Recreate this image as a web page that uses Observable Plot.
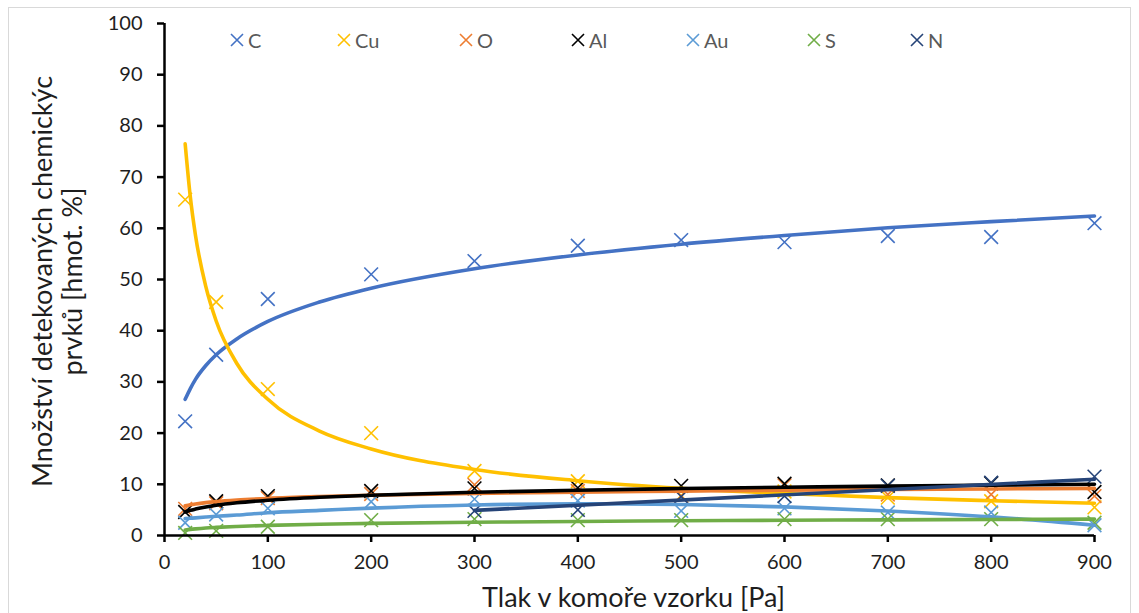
<!DOCTYPE html>
<html><head><meta charset="utf-8">
<script src="https://cdn.jsdelivr.net/npm/d3@7"></script>
<script src="https://cdn.jsdelivr.net/npm/@observablehq/plot@0.6"></script>
<style>
html,body{margin:0;padding:0;background:#fff;}
#wrap{position:relative;width:1139px;height:613px;overflow:hidden;}
#border{position:absolute;left:8px;top:7px;width:1123px;height:640px;border:1px solid #d9d9d9;box-sizing:border-box;pointer-events:none;}
#legend{position:absolute;top:0;left:0;width:1139px;height:60px;font-family:Lato,sans-serif;font-size:20px;color:#595959;}
.item{position:absolute;top:29px;height:22px;display:flex;align-items:center;white-space:nowrap;}
.item svg{margin-right:4px;}
</style></head>
<body><div id="wrap"><div id="chart"></div><div id="legend"></div><div id="border"></div></div>
<script>
// ---- data ----
const seriesNames = ["C", "Cu", "O", "Al", "Au", "S", "N"];
const seriesColors = ["#4472C4", "#FFC000", "#ED7D31", "#000000", "#5B9BD5", "#70AD47", "#264478"];
const pressure = [20, 50, 100, 200, 300, 400, 500, 600, 700, 800, 900];
const C  = [22.3, 35.3, 46.2, 51.0, 53.6, 56.6, 57.7, 57.3, 58.5, 58.3, 61.0];
const Cu = [65.6, 45.6, 28.6, 20.0, 12.6, 10.6, 7.8, 8.6, 7.4, 6.7, 5.5];
const O  = [5.2, 6.3, 7.3, 8.1, 9.9, 8.7, 7.7, 9.8, 8.0, 8.0, 7.7];
const Al = [4.6, 6.7, 7.7, 8.7, 9.2, 9.3, 9.7, 10.1, 9.8, 10.2, 8.5];
const Au = [2.5, 4.1, 5.3, 6.6, 7.1, 6.8, 4.8, 5.3, 4.5, 4.5, 2.0];
const S  = [0.5, 0.9, 1.7, 3.0, 3.2, 3.0, 3.0, 3.2, 3.2, 3.2, 2.5];
const pressureN = [300, 400, 500, 600, 700, 800, 900];
const N  = [4.8, 5.0, 7.6, 7.7, 9.7, 10.3, 11.5];

// trend lines (Excel trendlines)
const trendX   = [20, 25, 30, 40, 50, 70, 100, 150, 200, 300, 400, 500, 600, 700, 800, 900];
const trendC   = [26.6, 28.7, 30.5, 33.2, 35.3, 38.4, 41.8, 45.6, 48.3, 52.1, 54.8, 56.9, 58.6, 60.1, 61.3, 62.4];
const trendCu  = [76.5, 66.1, 58.6, 48.6, 41.9, 33.6, 26.6, 20.4, 16.9, 12.9, 10.7, 9.2, 8.2, 7.4, 6.8, 6.3];
const trendO   = [5.8, 6.0, 6.16, 6.42, 6.62, 6.92, 7.24, 7.6, 7.86, 8.22, 8.47, 8.67, 8.84, 8.97, 9.09, 9.2];
const trendAl  = [4.6, 4.92, 5.17, 5.58, 5.9, 6.38, 6.88, 7.46, 7.87, 8.44, 8.85, 9.17, 9.43, 9.65, 9.84, 10.0];
const trendAu  = [3.3, 3.37, 3.45, 3.6, 3.75, 4.0, 4.45, 4.9, 5.35, 5.95, 6.2, 6.05, 5.6, 4.8, 3.65, 2.0];
const trendS   = [1.07, 1.19, 1.29, 1.46, 1.58, 1.77, 1.97, 2.2, 2.36, 2.58, 2.74, 2.87, 2.97, 3.06, 3.13, 3.2];
const trendXN  = [300, 900];
const trendN   = [4.9, 11.0];

const xTicks = [0, 100, 200, 300, 400, 500, 600, 700, 800, 900];
const yTicks = [0, 10, 20, 30, 40, 50, 60, 70, 80, 90, 100];
const xTitle = "Tlak v komoře vzorku [Pa]";
const yTitle = "Množství detekovaných chemickýc\nprvků [hmot. %]";

// ---- tables built from the arrays ----
const pointSets = [[C, pressure], [Cu, pressure], [O, pressure], [Al, pressure], [Au, pressure], [S, pressure], [N, pressureN]];
const points = [];
pointSets.forEach(([vals, xs], i) => vals.forEach((v, j) => points.push({s: seriesNames[i], x: xs[j], y: v})));
const trendSets = [[trendC, trendX], [trendCu, trendX], [trendO, trendX], [trendAl, trendX], [trendAu, trendX], [trendS, trendX], [trendN, trendXN]];
const trends = [];
trendSets.forEach(([vals, xs], i) => vals.forEach((v, j) => trends.push({s: seriesNames[i], x: xs[j], y: v})));

const chart = Plot.plot({
  width: 1139, height: 613,
  marginLeft: 164, marginRight: 45, marginTop: 23, marginBottom: 78,
  style: {fontFamily: "Lato, sans-serif", fontSize: "20px", color: "#1e1e1e", background: "transparent"},
  x: {domain: [0, 900]},
  y: {domain: [0, 100]},
  color: {domain: seriesNames, range: seriesColors},
  marks: [
    Plot.dot(points, {x: "x", y: "y", stroke: "s", symbol: "times", r: 6.3, strokeWidth: 1.6}),
    Plot.line(trends, {x: "x", y: "y", z: "s", stroke: "s", strokeWidth: 3.6, curve: "monotone-x"}),
    Plot.axisX({ticks: xTicks, tickSize: 7, tickPadding: 12, strokeWidth: 2.5, label: null, stroke: "#000"}),
    Plot.axisY({ticks: yTicks, tickSize: 7, tickPadding: 15, strokeWidth: 2.5, label: null, stroke: "#000"}),
    Plot.ruleY([0], {stroke: "#000", strokeWidth: 2.5}),
    Plot.ruleX([0], {stroke: "#000", strokeWidth: 2.5}),
    Plot.text([xTitle], {frameAnchor: "bottom", lineAnchor: "middle", dy: 63, dx: 4, fontSize: 27, text: d => d, fill: "#1e1e1e"}),
    Plot.text([yTitle], {frameAnchor: "left", textAnchor: "middle", lineAnchor: "middle", rotate: -90, dx: -107, dy: 2, fontSize: 27, lineHeight: 1.12, text: d => d, fill: "#1e1e1e"})
  ]
});
document.getElementById("chart").appendChild(chart);

// ---- legend (inside the plot area, top) ----
const legendCenters = [237, 344, 466, 578, 693, 814, 917];
const legend = document.getElementById("legend");
seriesNames.forEach((name, i) => {
  const item = document.createElement("div");
  item.className = "item";
  item.style.left = (legendCenters[i] - 7) + "px";
  item.innerHTML = `<svg width="14" height="14"><path d="M1,1L13,13M13,1L1,13" stroke="${seriesColors[i]}" stroke-width="1.6"/></svg><span>${name}</span>`;
  legend.appendChild(item);
});
</script>
</body></html>
